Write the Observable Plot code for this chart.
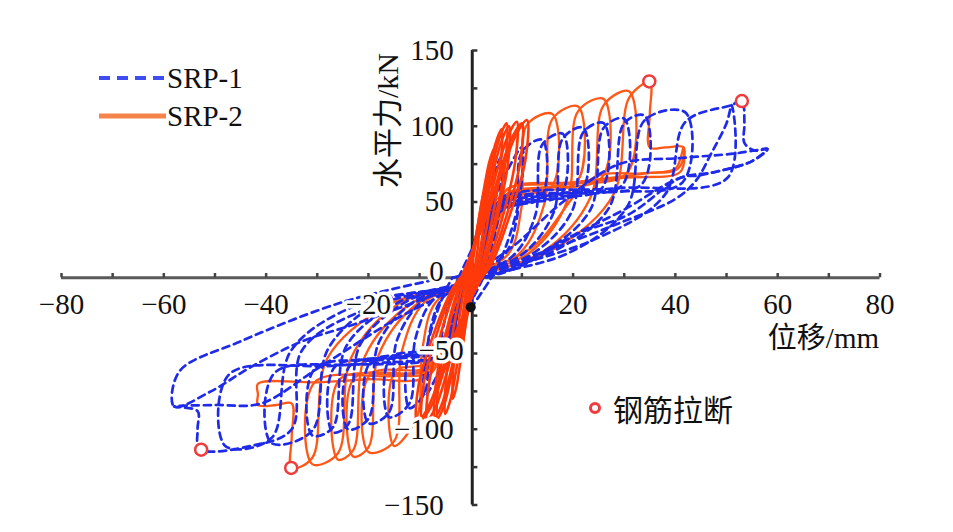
<!DOCTYPE html>
<html><head><meta charset="utf-8">
<script src="https://cdn.jsdelivr.net/npm/d3@7"></script>
<script src="https://cdn.jsdelivr.net/npm/@observablehq/plot@0.6"></script>
<style>
 body{margin:0;background:#fff;}
 #wrap{position:relative;width:953px;height:532px;overflow:hidden;}
 #wrap svg text{font-family:"Liberation Serif","Noto Sans CJK SC",serif !important;}
 .leg{position:absolute;font-family:"Liberation Serif",serif;font-size:29px;color:#111;display:flex;align-items:center;line-height:34px;white-space:nowrap;}
 .cjk{font-family:"Noto Sans CJK SC",sans-serif;font-size:30px;}
</style>
</head><body><div id="wrap"></div>
<script>
// ---- data: hysteresis loops (displacement mm, force kN) ----
const srp1Loops = [
 [[0,0],[0.9,25],[2.3,47],[3,55],[2.9,33],[1.8,8],[1.2,0],[-0.9,-20],[-2.3,-38],[-3,-45],[-2.9,-27],[-1.8,-7],[-1.2,0]],
 [[-1.2,0],[1.8,36],[4.5,68],[6,80],[5.7,48],[3.6,12],[2.4,0],[-1.8,-29],[-4.5,-55],[-6,-65],[-5.7,-39],[-3.6,-10],[-2.4,0]],
 [[-2.4,0],[3,39],[7.5,73],[10,86],[9.5,52],[6,13],[4,0],[-2.7,-35],[-6.8,-66],[-9,-78],[-8.6,-47],[-5.4,-12],[-3.6,0]],
 [[-3.6,0],[6.3,14],[9,39],[10,83],[14,91],[13.8,53],[7.7,47],[5,41],[2.5,18],[1,0],[-5.4,-13],[-8.1,-37],[-9,-76],[-12,-86],[-11.8,-50],[-6.6,-45],[-5,-39],[-2.5,-17],[-1,0]],
 [[-1,0],[8.1,14],[12.6,41],[14,88],[18,95],[17.7,55],[9.9,49],[5,43],[2.5,19],[1,0],[-7.2,-14],[-10.8,-40],[-12,-83],[-16,-92],[-15.8,-53],[-8.8,-48],[-5,-41],[-2.5,-18],[-1,0]],
 [[-1,0],[9.9,15],[16.2,43],[18,92],[22,99],[21.7,57],[12.1,51],[5,45],[2.5,20],[1,0],[-9,-14],[-14.4,-41],[-16,-89],[-20,-96],[-19.7,-56],[-11,-50],[-5,-43],[-2.5,-19],[-1,0]],
 [[-1,0],[11.7,15],[19.8,44],[22,96],[26,102],[25.6,59],[14.3,53],[5,46],[2.5,20],[1,0],[-10.8,-15],[-18,-43],[-20,-93],[-24,-100],[-23.6,-58],[-13.2,-52],[-5,-45],[-2.5,-20],[-1,0]],
 [[-1,0],[13.5,16],[23.4,45],[26,99],[30,105],[29.6,61],[16.5,55],[5,47],[2.5,21],[1,0],[-12.2,-15],[-21.6,-44],[-24,-97],[-27,-102],[-26.6,-59],[-14.9,-53],[-5,-46],[-2.5,-20],[-1,0]],
 [[-1,0],[15.3,16],[27,46],[30,102],[34,107],[33.5,62],[18.7,56],[5,48],[2.5,21],[1,0],[-14,-16],[-24.3,-45],[-27,-99],[-31,-104],[-30.5,-60],[-17,-54],[-5,-47],[-2.5,-21],[-1,0]],
 [[-1,0],[18.9,16],[30.6,47],[34,104],[42,109],[41.4,63],[23.1,57],[5,49],[2.5,22],[1,0],[-17.6,-16],[-27.9,-47],[-31,-101],[-39,-109],[-38.4,-63],[-21.5,-57],[-5,-49],[-2.5,-22],[-1,0]],
 [[-1,0],[15,18],[29,36],[40,52],[44,64],[47,82],[50,102],[51,114],[50.2,66],[28,59],[5,51],[2.5,23],[1,0],[-21.6,-17],[-35.1,-48],[-39,-106],[-48,-111],[-47.3,-64],[-26.4,-58],[-5,-50],[-2.5,-22],[-1,0]],
 [[-1,0],[24,25],[38,55],[42,103],[51,114],[53,117],[53.5,102],[53.5,89],[55.5,84],[58,85],[55,77],[51.6,73],[48,70],[44.5,67.5],[41,66],[31,42],[21,29],[10,8],[3,0],[-20,-20],[-33,-48],[-35,-100],[-43,-111],[-53,-113],[-53.4,-100],[-53.4,-88],[-58,-85],[-50,-84],[-41,-83],[-30,-60],[-15,-28],[-5,-10],[-1,0]],
 [[-1,0],[8,20],[18,50],[29,75],[41,79],[51.6,82],[55.5,84],[58,85],[55,77],[48,70],[41,66],[30,45],[20,28],[8,6],[2,0],[-10,-15],[-23,-31],[-33,-42],[-43,-59],[-50.8,-75],[-58,-85],[-57,-62],[-45,-42],[-25,-16],[-8,-2]]
];
const srp2MainLoops = [
 [[-2.1,0],[7.2,15],[9.9,46],[11,101],[16,108],[15.8,60],[8,54],[7,51],[4,22],[1.5,0],[-6.8,-16],[-9.5,-48],[-10.5,-92],[-15,-111],[-14.8,-62],[-8,-56],[-4,-28],[-1.5,0]],
 [[-1.5,0],[9.5,16],[14.4,49],[16,105],[21,113],[20.7,63],[10.5,57],[7,53],[4,23],[1.5,0],[-9,-16],[-13.5,-49],[-15,-108],[-20,-115],[-19.7,-64],[-10,-61],[-8,-58],[-4,-29],[-1.5,0]],
 [[-1.5,0],[11.7,17],[18.9,51],[21,110],[26,118],[25.6,66],[13,59],[7,55],[4,24],[1.5,0],[-10.4,-17],[-18,-51],[-20,-112],[-23,-118],[-22.7,-66],[-11.5,-63],[-8,-59],[-4,-30],[-1.5,0]],
 [[-1.5,0],[14,17],[23.4,53],[26,114],[31,123],[30.5,69],[15.5,62],[7,58],[4,25],[1.5,0],[-11.7,-17],[-20.7,-52],[-23,-114],[-26,-120],[-25.6,-67],[-13,-64],[-8,-60],[-4,-30],[-1.5,0]],
 [[-1.5,0],[15.8,18],[27.9,55],[31,119],[35,129],[35,108],[35,86],[38,86],[41.6,86],[40.5,72],[34.7,69],[20,63],[7,58],[4,25],[1.5,0],[-14,-17],[-23.4,-53],[-26,-116],[-31,-123],[-30.5,-69],[-15.5,-65],[-8,-62],[-4,-31],[-1.5,0]],
 [[-1.5,0],[12,20],[24,66],[34,69],[40,72],[41.6,86],[41,70],[30,66],[15,60],[7,55],[4,24],[1.5,0],[-15.6,-17],[-28,-53],[-31,-119],[-35,-125.5],[-35,-105],[-35,-83],[-38,-84],[-41.6,-84],[-41.6,-77],[-41.6,-70],[-30,-69],[-20,-67],[-8.4,-65],[-4,-32],[-1.5,0]]
];
const srp2EarlyLoops = [
 [[0,0],[0.45,12],[1.2,27],[1.5,30],[1.45,22],[1.05,12],[0.5,2],[0.3,0],[-0.3,-10],[-0.8,-22],[-1,-25],[-0.97,-19],[-0.7,-10],[-0.35,-2],[-0.2,0]],
 [[-0.2,0],[0.9,24],[2.4,54],[3,60],[2.9,45],[2.1,24],[1.05,5],[0.6,0],[-0.6,-20],[-1.6,-45],[-2,-50],[-1.95,-37],[-1.4,-20],[-0.7,-4],[-0.4,0]],
 [[-0.4,0],[1.35,34],[3.6,76],[4.5,85],[4.4,64],[3.15,34],[1.6,7],[0.9,0],[-1.05,-32],[-2.8,-72],[-3.5,-80],[-3.4,-60],[-2.45,-32],[-1.2,-6],[-0.7,0]],
 [[-0.7,0],[1.8,39],[4.8,88],[6,98],[5.8,73],[4.2,39],[2.1,8],[1.2,0],[-1.5,-36],[-4,-81],[-5,-90],[-4.85,-68],[-3.5,-36],[-1.75,-7],[-1,0]],
 [[-1,0],[2.1,41],[5.6,92],[7,102],[6.8,77],[4.9,41],[2.45,8],[1.4,0],[-1.95,-37],[-5.2,-84],[-6.5,-93],[-6.3,-70],[-4.55,-37],[-2.3,-7],[-1.3,0]],
 [[-1.3,0],[2.3,40],[6,90],[7.5,100],[7.3,76],[5.2,40],[2.6,8],[1.5,0],[-2.1,-37],[-5.6,-83],[-7,-92],[-6.8,-69],[-4.9,-37],[-2.4,-7],[-1.4,0]],
 [[-1.4,0],[2.7,41],[7.2,93],[9,103],[8.7,77],[6.3,41],[3.15,8],[1.8,0],[-2.55,-38],[-6.8,-85],[-8.5,-94],[-8.2,-71],[-5.95,-38],[-3,-8],[-1.7,0]],
 [[-1.7,0],[3,41],[8,92],[10,102],[9.7,77],[7,41],[3.5,8],[2,0],[-2.85,-37],[-7.6,-84],[-9.5,-93],[-9.2,-70],[-6.65,-37],[-3.3,-7],[-1.9,0]],
 [[-1.9,0],[3.3,42],[8.8,94],[11,104],[10.7,78],[7.7,42],[3.9,8],[2.2,0],[-3.15,-38],[-8.4,-86],[-10.5,-95],[-10.2,-71],[-7.35,-38],[-3.7,-8],[-2.1,0]]
];
const fracturePoints = [[34.9,129.6],[53,116.6],[-52.7,-113.5],[-35.1,-125.5]];
const blackDot = [[0,-19.4]];
const xTickValues = [-80,-70,-60,-50,-40,-30,-20,-10,10,20,30,40,50,60,70,80];
const xLabelValues = [-80,-60,-40,-20,20,40,60,80];
const yTickValues = [-150,-125,-100,-75,-50,-25,25,50,75,100,125,150];
const yLabelValues = [150,100,50,0,-50,-100,-150];
const seriesNames = ["SRP-1","SRP-2"];
const noteLabel = "钢筋拉断";
const xTitle = "位移/mm";
const yTitle = "水平力/kN";

// ---- build tables ----
function toRows(loops, tag){
  const out = [];
  loops.forEach((loop,i)=>loop.forEach(([x,y])=>out.push({x,y,loop:tag+i})));
  return out;
}
const rows1 = toRows(srp1Loops,"a");
const rows2m = toRows(srp2MainLoops,"b");
const rows2e = toRows(srp2EarlyLoops,"c");
const fmt = v => v < 0 ? "\u2212" + (-v) : String(v);

const BLUE = "#1f2be8", ORANGE = "#ff5716";
const FONT = "Liberation Serif, Noto Sans CJK SC, serif";
const labelStyle = {fill:"#111", stroke:"white", strokeWidth:7, fontSize:29, fontFamily:FONT};

const chart = Plot.plot({
  width: 953, height: 532,
  marginLeft: 61, marginRight: 73.5, marginTop: 50, marginBottom: 27.5,
  x: {domain:[-80,80], axis:null},
  y: {domain:[-150,150], axis:null},
  style: {background:"white", fontFamily:FONT, overflow:"visible"},
  marks: [
    Plot.ruleY([0], {x1:-80, x2:80, stroke:"#5a5a5a", strokeWidth:3}),
    Plot.ruleX(xTickValues, {x:d=>d, y1:0, y2:2.8, stroke:"#444", strokeWidth:2.5}),
    Plot.ruleX([0], {y1:-150, y2:150, stroke:"#222", strokeWidth:3, dx:1.5}),
    Plot.ruleY(yTickValues, {y:d=>d, x1:0, x2:1.1, stroke:"#333", strokeWidth:2.5, dx:1.5}),
    Plot.line(rows2m, {x:"x", y:"y", z:"loop", stroke:ORANGE, strokeWidth:2.3, curve:"catmull-rom", strokeLinejoin:"round"}),
    Plot.line(rows1, {x:"x", y:"y", z:"loop", stroke:BLUE, strokeWidth:2.7, strokeDasharray:"7,5", curve:"catmull-rom"}),
    Plot.line(rows2e, {x:"x", y:"y", z:"loop", stroke:"#ff3a0a", strokeWidth:2.6, curve:"catmull-rom", strokeLinejoin:"round"}),
    Plot.dot(blackDot, {x:d=>d[0], y:d=>d[1], r:5, fill:"#111"}),
    Plot.dot(fracturePoints, {x:d=>d[0], y:d=>d[1], r:6, stroke:"#ee3b3b", strokeWidth:2.5, fill:"white"}),
    Plot.text(xLabelValues, {x:d=>d, y:0, dy:27, text:fmt, textAnchor:"middle", ...labelStyle}),
    Plot.text(yLabelValues.filter(v=>![0,-50,-150].includes(v)), {x:0, y:d=>d, text:fmt, textAnchor:"end", dx:-17, ...labelStyle}),
    Plot.text(yLabelValues.filter(v=>v===0), {x:0, y:d=>d, text:fmt, textAnchor:"end", dx:-27, dy:-6, ...labelStyle}),
    Plot.text(yLabelValues.filter(v=>v===-50), {x:0, y:d=>d, text:fmt, textAnchor:"end", dx:-7, dy:-3, ...labelStyle}),
    Plot.text(yLabelValues.filter(v=>v===-150), {x:0, y:d=>d, text:fmt, textAnchor:"end", dx:-27, dy:1, ...labelStyle}),
    Plot.text([xTitle], {frameAnchor:"bottom-right", lineAnchor:"middle", dx:-1, dy:-166, textAnchor:"end", fontSize:29, fill:"#111", fontFamily:FONT}),
    Plot.text([yTitle], {frameAnchor:"top", lineAnchor:"middle", dx:-82, dy:70, rotate:-90, textAnchor:"middle", fontSize:30, fill:"#111", fontFamily:FONT})
  ]
});
const wrap = document.getElementById("wrap");
wrap.appendChild(chart);

// legends (overlaid on the plot area)
function addLegend(html, left, top){
  const d = document.createElement("div");
  d.className = "leg"; d.style.left = left+"px"; d.style.top = top+"px";
  d.innerHTML = html; wrap.appendChild(d);
}
addLegend(`<svg width="66" height="10"><line x1="0" y1="5" x2="66" y2="5" stroke="#3f4cf0" stroke-width="4" stroke-dasharray="11,7"/></svg><span style="margin-left:2px">${seriesNames[0]}</span>`, 99, 61);
addLegend(`<svg width="67" height="10"><line x1="0" y1="5" x2="67" y2="5" stroke="#f4844c" stroke-width="5"/></svg><span style="margin-left:1px">${seriesNames[1]}</span>`, 99, 99);
addLegend(`<svg width="14" height="14"><circle cx="7" cy="7" r="4.5" fill="white" stroke="#ee3b3b" stroke-width="3"/></svg><span class="cjk" style="margin-left:11px">${noteLabel}</span>`, 588, 391);
</script>
</body></html>
